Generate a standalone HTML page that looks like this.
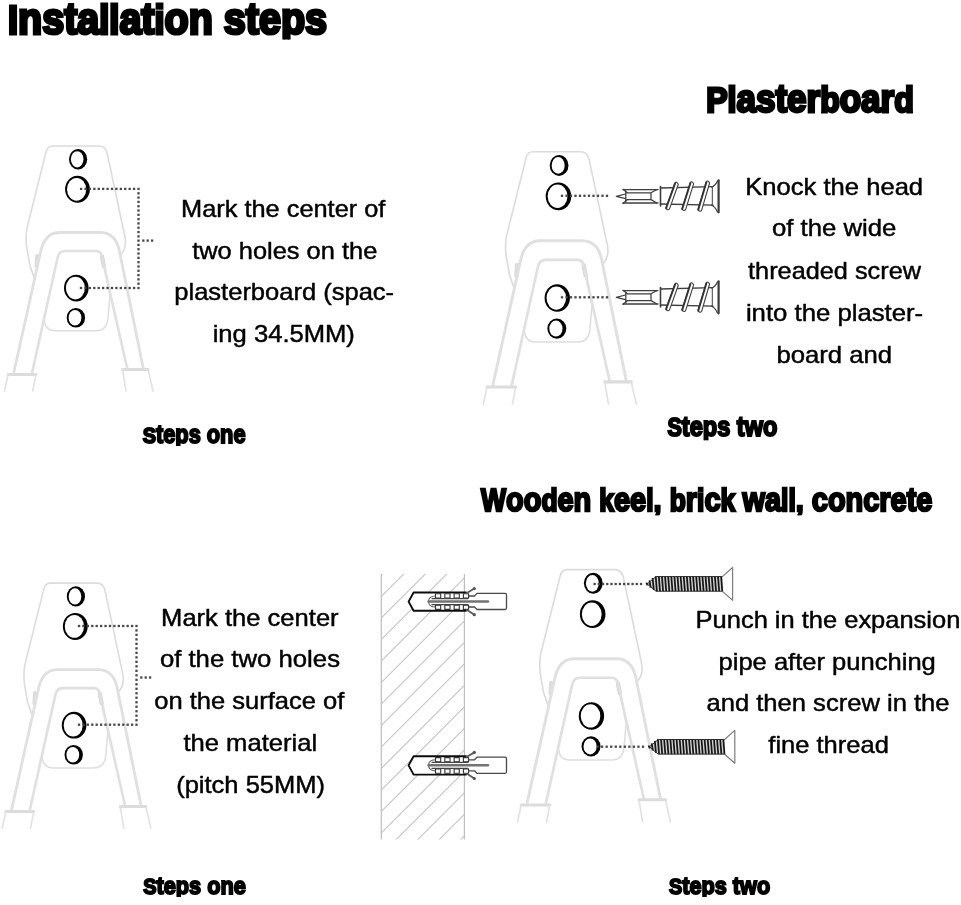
<!DOCTYPE html>
<html><head><meta charset="utf-8"><title>Installation steps</title>
<style>html,body{margin:0;padding:0;background:#fff}svg{display:block;will-change:transform}text{font-family:"Liberation Sans",sans-serif;fill:#000}</style></head>
<body>
<svg width="961" height="905" viewBox="0 0 961 905">
<rect width="961" height="905" fill="#fff"/>
<defs>
<g id="bk" fill="none" stroke-linecap="round" stroke-linejoin="round">
  <!-- upper plate -->
  <path d="M52.5 146 H99 Q105 146 107 152.5 L125 237 Q127 247 121.5 254" stroke="#dcdcdc" stroke-width="1.6"/>
  <path d="M52.5 146 Q47.5 146 46 152 L27 228 Q25 240 27.5 252 L30 266 L35 280" stroke="#dcdcdc" stroke-width="1.6"/>
  <!-- tabs -->
  <path d="M37.3 256 L36.6 266" stroke="#dcdcdc" stroke-width="4.2"/>
  <path d="M102 256.5 L103.8 266" stroke="#d6d6d6" stroke-width="4.2"/>
  <!-- lower plate -->
  <path d="M44 316 Q44 330.8 55 330.8 H96 Q107 330.8 108 318 L110 296 L104.5 264" stroke="#dedede" stroke-width="1.5"/>
  <!-- arch outer -->
  <path d="M13.9 372 L40.6 252 Q44.5 233 59 232.5 H101 Q115 233 119 249 L143.2 368" stroke="#e0e0e0" stroke-width="2.8"/>
  <!-- arch inner -->
  <path d="M31.8 374 L57.5 258 Q59 251 65 251 H96 Q101 251 102 257 L127.3 369" stroke="#e0e0e0" stroke-width="2.6"/>
  <!-- feet -->
  <path d="M8 374.5 H36" stroke="#dcdcdc" stroke-width="3"/>
  <path d="M8 375 L4.5 391 M35.8 375 L32.8 391" stroke="#e2e2e2" stroke-width="1.6"/>
  <path d="M122.3 369.5 H148.2" stroke="#dcdcdc" stroke-width="3"/>
  <path d="M122.5 370 L126 391 M148.2 370 L153 391" stroke="#e2e2e2" stroke-width="1.6"/>
</g>
<g id="holes"><ellipse cx="78.1" cy="159.3" rx="9.1" ry="10.2" fill="#000"/><ellipse cx="77.2" cy="159.3" rx="6.3" ry="8.1" fill="#fff"/><ellipse cx="77.5" cy="189.3" rx="12.4" ry="13.5" fill="#000"/><ellipse cx="76.6" cy="189.3" rx="9.6" ry="11.4" fill="#fff"/><ellipse cx="76.3" cy="288.1" rx="12.3" ry="13.4" fill="#000"/><ellipse cx="75.4" cy="288.1" rx="9.5" ry="11.3" fill="#fff"/><ellipse cx="75.9" cy="317.7" rx="9.2" ry="9.8" fill="#000"/><ellipse cx="75" cy="317.7" rx="6.4" ry="7.7" fill="#fff"/></g></defs>
<use href="#bk" transform="translate(78 159.3) scale(1) translate(-78 -159.3)"/>
<use href="#bk" transform="translate(559 165.4) scale(1.03) translate(-78 -159.3)"/>
<use href="#bk" transform="translate(75.8 596.4) scale(1) translate(-78 -159.3)"/>
<use href="#bk" transform="translate(593.2 583.3) scale(1.03) translate(-78 -159.3)"/>
<use href="#holes" transform="translate(78 159.3) scale(1) translate(-78 -159.3)"/>
<use href="#holes" transform="translate(559 165.4) scale(1.03) translate(-78 -159.3)"/>
<use href="#holes" transform="translate(75.8 596.4) scale(1) translate(-78 -159.3)"/>
<use href="#holes" transform="translate(593.2 583.3) scale(1.03) translate(-78 -159.3)"/>
<g fill="#484848"><rect x="79.95" y="187.75" width="2.3" height="2.3"/><rect x="84.37" y="187.75" width="2.3" height="2.3"/><rect x="88.78" y="187.75" width="2.3" height="2.3"/><rect x="93.2" y="187.75" width="2.3" height="2.3"/><rect x="97.61" y="187.75" width="2.3" height="2.3"/><rect x="102.03" y="187.75" width="2.3" height="2.3"/><rect x="106.44" y="187.75" width="2.3" height="2.3"/><rect x="110.86" y="187.75" width="2.3" height="2.3"/><rect x="115.27" y="187.75" width="2.3" height="2.3"/><rect x="119.69" y="187.75" width="2.3" height="2.3"/><rect x="124.1" y="187.75" width="2.3" height="2.3"/><rect x="128.52" y="187.75" width="2.3" height="2.3"/><rect x="132.93" y="187.75" width="2.3" height="2.3"/><rect x="137.35" y="187.75" width="2.3" height="2.3"/></g>
<g fill="#484848"><rect x="137.35" y="192.15" width="2.3" height="2.3"/><rect x="137.35" y="196.45" width="2.3" height="2.3"/><rect x="137.35" y="200.76" width="2.3" height="2.3"/><rect x="137.35" y="205.06" width="2.3" height="2.3"/><rect x="137.35" y="209.37" width="2.3" height="2.3"/><rect x="137.35" y="213.67" width="2.3" height="2.3"/><rect x="137.35" y="217.98" width="2.3" height="2.3"/><rect x="137.35" y="222.28" width="2.3" height="2.3"/><rect x="137.35" y="226.59" width="2.3" height="2.3"/><rect x="137.35" y="230.89" width="2.3" height="2.3"/><rect x="137.35" y="235.2" width="2.3" height="2.3"/><rect x="137.35" y="239.5" width="2.3" height="2.3"/><rect x="137.35" y="243.8" width="2.3" height="2.3"/><rect x="137.35" y="248.11" width="2.3" height="2.3"/><rect x="137.35" y="252.41" width="2.3" height="2.3"/><rect x="137.35" y="256.72" width="2.3" height="2.3"/><rect x="137.35" y="261.02" width="2.3" height="2.3"/><rect x="137.35" y="265.33" width="2.3" height="2.3"/><rect x="137.35" y="269.63" width="2.3" height="2.3"/><rect x="137.35" y="273.94" width="2.3" height="2.3"/><rect x="137.35" y="278.24" width="2.3" height="2.3"/><rect x="137.35" y="282.55" width="2.3" height="2.3"/><rect x="137.35" y="286.85" width="2.3" height="2.3"/></g>
<g fill="#484848"><rect x="79.85" y="286.85" width="2.3" height="2.3"/><rect x="84.27" y="286.85" width="2.3" height="2.3"/><rect x="88.7" y="286.85" width="2.3" height="2.3"/><rect x="93.12" y="286.85" width="2.3" height="2.3"/><rect x="97.55" y="286.85" width="2.3" height="2.3"/><rect x="101.97" y="286.85" width="2.3" height="2.3"/><rect x="106.4" y="286.85" width="2.3" height="2.3"/><rect x="110.82" y="286.85" width="2.3" height="2.3"/><rect x="115.25" y="286.85" width="2.3" height="2.3"/><rect x="119.67" y="286.85" width="2.3" height="2.3"/><rect x="124.1" y="286.85" width="2.3" height="2.3"/><rect x="128.52" y="286.85" width="2.3" height="2.3"/><rect x="132.95" y="286.85" width="2.3" height="2.3"/></g>
<g fill="#484848"><rect x="142.15" y="239.45" width="2.3" height="2.3"/><rect x="146.55" y="239.45" width="2.3" height="2.3"/><rect x="150.95" y="239.45" width="2.3" height="2.3"/></g>
<g fill="#484848"><rect x="77.85" y="624.85" width="2.3" height="2.3"/><rect x="82.27" y="624.85" width="2.3" height="2.3"/><rect x="86.7" y="624.85" width="2.3" height="2.3"/><rect x="91.12" y="624.85" width="2.3" height="2.3"/><rect x="95.54" y="624.85" width="2.3" height="2.3"/><rect x="99.97" y="624.85" width="2.3" height="2.3"/><rect x="104.39" y="624.85" width="2.3" height="2.3"/><rect x="108.81" y="624.85" width="2.3" height="2.3"/><rect x="113.23" y="624.85" width="2.3" height="2.3"/><rect x="117.66" y="624.85" width="2.3" height="2.3"/><rect x="122.08" y="624.85" width="2.3" height="2.3"/><rect x="126.5" y="624.85" width="2.3" height="2.3"/><rect x="130.93" y="624.85" width="2.3" height="2.3"/><rect x="135.35" y="624.85" width="2.3" height="2.3"/></g>
<g fill="#484848"><rect x="135.35" y="629.25" width="2.3" height="2.3"/><rect x="135.35" y="633.74" width="2.3" height="2.3"/><rect x="135.35" y="638.23" width="2.3" height="2.3"/><rect x="135.35" y="642.72" width="2.3" height="2.3"/><rect x="135.35" y="647.21" width="2.3" height="2.3"/><rect x="135.35" y="651.7" width="2.3" height="2.3"/><rect x="135.35" y="656.19" width="2.3" height="2.3"/><rect x="135.35" y="660.68" width="2.3" height="2.3"/><rect x="135.35" y="665.17" width="2.3" height="2.3"/><rect x="135.35" y="669.66" width="2.3" height="2.3"/><rect x="135.35" y="674.15" width="2.3" height="2.3"/><rect x="135.35" y="678.65" width="2.3" height="2.3"/><rect x="135.35" y="683.14" width="2.3" height="2.3"/><rect x="135.35" y="687.63" width="2.3" height="2.3"/><rect x="135.35" y="692.12" width="2.3" height="2.3"/><rect x="135.35" y="696.61" width="2.3" height="2.3"/><rect x="135.35" y="701.1" width="2.3" height="2.3"/><rect x="135.35" y="705.59" width="2.3" height="2.3"/><rect x="135.35" y="710.08" width="2.3" height="2.3"/><rect x="135.35" y="714.57" width="2.3" height="2.3"/><rect x="135.35" y="719.06" width="2.3" height="2.3"/><rect x="135.35" y="723.55" width="2.3" height="2.3"/></g>
<g fill="#484848"><rect x="77.85" y="723.55" width="2.3" height="2.3"/><rect x="82.27" y="723.55" width="2.3" height="2.3"/><rect x="86.7" y="723.55" width="2.3" height="2.3"/><rect x="91.12" y="723.55" width="2.3" height="2.3"/><rect x="95.55" y="723.55" width="2.3" height="2.3"/><rect x="99.97" y="723.55" width="2.3" height="2.3"/><rect x="104.4" y="723.55" width="2.3" height="2.3"/><rect x="108.82" y="723.55" width="2.3" height="2.3"/><rect x="113.25" y="723.55" width="2.3" height="2.3"/><rect x="117.67" y="723.55" width="2.3" height="2.3"/><rect x="122.1" y="723.55" width="2.3" height="2.3"/><rect x="126.52" y="723.55" width="2.3" height="2.3"/><rect x="130.95" y="723.55" width="2.3" height="2.3"/></g>
<g fill="#484848"><rect x="140.15" y="676.35" width="2.3" height="2.3"/><rect x="144.55" y="676.35" width="2.3" height="2.3"/><rect x="148.95" y="676.35" width="2.3" height="2.3"/></g>
<g fill="#484848"><rect x="560.85" y="194.65" width="2.3" height="2.3"/><rect x="565.35" y="194.65" width="2.3" height="2.3"/><rect x="569.85" y="194.65" width="2.3" height="2.3"/><rect x="574.35" y="194.65" width="2.3" height="2.3"/><rect x="578.85" y="194.65" width="2.3" height="2.3"/><rect x="583.35" y="194.65" width="2.3" height="2.3"/><rect x="587.85" y="194.65" width="2.3" height="2.3"/><rect x="592.35" y="194.65" width="2.3" height="2.3"/><rect x="596.85" y="194.65" width="2.3" height="2.3"/><rect x="601.35" y="194.65" width="2.3" height="2.3"/><rect x="605.85" y="194.65" width="2.3" height="2.3"/></g>
<g fill="#484848"><rect x="560.85" y="296.15" width="2.3" height="2.3"/><rect x="565.35" y="296.15" width="2.3" height="2.3"/><rect x="569.85" y="296.15" width="2.3" height="2.3"/><rect x="574.35" y="296.15" width="2.3" height="2.3"/><rect x="578.85" y="296.15" width="2.3" height="2.3"/><rect x="583.35" y="296.15" width="2.3" height="2.3"/><rect x="587.85" y="296.15" width="2.3" height="2.3"/><rect x="592.35" y="296.15" width="2.3" height="2.3"/><rect x="596.85" y="296.15" width="2.3" height="2.3"/><rect x="601.35" y="296.15" width="2.3" height="2.3"/><rect x="605.85" y="296.15" width="2.3" height="2.3"/></g>
<g fill="#484848"><rect x="593.45" y="582.85" width="2.3" height="2.3"/><rect x="597.67" y="582.85" width="2.3" height="2.3"/><rect x="601.89" y="582.85" width="2.3" height="2.3"/><rect x="606.1" y="582.85" width="2.3" height="2.3"/><rect x="610.32" y="582.85" width="2.3" height="2.3"/><rect x="614.54" y="582.85" width="2.3" height="2.3"/><rect x="618.76" y="582.85" width="2.3" height="2.3"/><rect x="622.98" y="582.85" width="2.3" height="2.3"/><rect x="627.2" y="582.85" width="2.3" height="2.3"/><rect x="631.41" y="582.85" width="2.3" height="2.3"/><rect x="635.63" y="582.85" width="2.3" height="2.3"/><rect x="639.85" y="582.85" width="2.3" height="2.3"/></g>
<g fill="#484848"><rect x="596.45" y="745.55" width="2.3" height="2.3"/><rect x="600.99" y="745.55" width="2.3" height="2.3"/><rect x="605.53" y="745.55" width="2.3" height="2.3"/><rect x="610.07" y="745.55" width="2.3" height="2.3"/><rect x="614.61" y="745.55" width="2.3" height="2.3"/><rect x="619.15" y="745.55" width="2.3" height="2.3"/><rect x="623.69" y="745.55" width="2.3" height="2.3"/><rect x="628.23" y="745.55" width="2.3" height="2.3"/><rect x="632.77" y="745.55" width="2.3" height="2.3"/><rect x="637.31" y="745.55" width="2.3" height="2.3"/><rect x="641.85" y="745.55" width="2.3" height="2.3"/></g>
<g transform="translate(0 0)" fill="none" stroke="#3e3e3e" stroke-width="1.25" stroke-linejoin="round" stroke-linecap="round"><path d="M616.3 196.3 L625.5 194 M616.3 196.3 L625.5 198.6 M623 189.3 L627 192.6 M623 203.3 L627 200"/><path d="M625.8 191 V201.6" /><path d="M623 189.6 H658 M623 203 H658" stroke-width="1.3"/><path d="M627 192.8 H651 L656.5 189.8 M627 199.6 H651 L656.5 202.8 M651 192.8 V199.6"/><path d="M660.5 186.5 V206" stroke-width="1.6"/><path d="M660.5 188 L713 186.6 M660.5 204 L713 205.2" stroke-width="1.3"/><path d="M665.9 207.9 L674.9 183.2 Q676.5 180.7 678.3 184.2 L669.5 208.9 Q667.7 211 665.9 207.9 Z" fill="#fff" stroke-width="1.1"/><path d="M666.1 208.2 L675.1 183.4" stroke-width="1.9" stroke="#333"/><path d="M682 208.7 L690.2 182.8 Q691.8 180.3 693.6 183.8 L685.6 209.7 Q683.8 211.8 682 208.7 Z" fill="#fff" stroke-width="1.1"/><path d="M682.2 209 L690.4 183" stroke-width="1.9" stroke="#333"/><path d="M698 209.4 L706.2 182 Q707.8 179.5 709.6 183 L701.6 210.4 Q699.8 212.5 698 209.4 Z" fill="#fff" stroke-width="1.1"/><path d="M698.2 209.7 L706.4 182.2" stroke-width="1.9" stroke="#333"/><path d="M711.5 187 Q715 186 717.5 181 M711.5 205 Q715 206.5 717.5 212"/><path d="M712.3 187.5 V205" stroke-width="1"/><path d="M718.6 180.3 V212.3" stroke-width="2.2" stroke="#3a3a3a"/></g>
<g transform="translate(0 101)" fill="none" stroke="#3e3e3e" stroke-width="1.25" stroke-linejoin="round" stroke-linecap="round"><path d="M616.3 196.3 L625.5 194 M616.3 196.3 L625.5 198.6 M623 189.3 L627 192.6 M623 203.3 L627 200"/><path d="M625.8 191 V201.6" /><path d="M623 189.6 H658 M623 203 H658" stroke-width="1.3"/><path d="M627 192.8 H651 L656.5 189.8 M627 199.6 H651 L656.5 202.8 M651 192.8 V199.6"/><path d="M660.5 186.5 V206" stroke-width="1.6"/><path d="M660.5 188 L713 186.6 M660.5 204 L713 205.2" stroke-width="1.3"/><path d="M665.9 207.9 L674.9 183.2 Q676.5 180.7 678.3 184.2 L669.5 208.9 Q667.7 211 665.9 207.9 Z" fill="#fff" stroke-width="1.1"/><path d="M666.1 208.2 L675.1 183.4" stroke-width="1.9" stroke="#333"/><path d="M682 208.7 L690.2 182.8 Q691.8 180.3 693.6 183.8 L685.6 209.7 Q683.8 211.8 682 208.7 Z" fill="#fff" stroke-width="1.1"/><path d="M682.2 209 L690.4 183" stroke-width="1.9" stroke="#333"/><path d="M698 209.4 L706.2 182 Q707.8 179.5 709.6 183 L701.6 210.4 Q699.8 212.5 698 209.4 Z" fill="#fff" stroke-width="1.1"/><path d="M698.2 209.7 L706.4 182.2" stroke-width="1.9" stroke="#333"/><path d="M711.5 187 Q715 186 717.5 181 M711.5 205 Q715 206.5 717.5 212"/><path d="M712.3 187.5 V205" stroke-width="1"/><path d="M718.6 180.3 V212.3" stroke-width="2.2" stroke="#3a3a3a"/></g>
<clipPath id="wc"><rect x="381.3" y="574" width="83.1" height="265.5"/></clipPath>
<g clip-path="url(#wc)" stroke="#c4c4c4" stroke-width="1.1"><path d="M379.3 577 L466.4 489.9"/><path d="M379.3 598.5 L466.4 511.4"/><path d="M379.3 620 L466.4 532.9"/><path d="M379.3 641.5 L466.4 554.4"/><path d="M379.3 663 L466.4 575.9"/><path d="M379.3 684.5 L466.4 597.4"/><path d="M379.3 706 L466.4 618.9"/><path d="M379.3 727.5 L466.4 640.4"/><path d="M379.3 749 L466.4 661.9"/><path d="M379.3 770.5 L466.4 683.4"/><path d="M379.3 792 L466.4 704.9"/><path d="M379.3 813.5 L466.4 726.4"/><path d="M379.3 835 L466.4 747.9"/><path d="M379.3 856.5 L466.4 769.4"/><path d="M379.3 878 L466.4 790.9"/><path d="M379.3 899.5 L466.4 812.4"/><path d="M379.3 921 L466.4 833.9"/></g>
<path d="M381.3 574 V839.5 M464.4 574 V839.5" stroke="#bdbdbd" stroke-width="1.2" fill="none"/>
<g transform="translate(0 0)" fill="none" stroke-linejoin="round" stroke-linecap="round"><path d="M408.6 601.6 L413.6 592.5 H468 V610.8 H413.6 Z" fill="#fff" stroke="none"/><path d="M466 596 H474.5 L477 593.4 H505 Q506.5 593.4 506.5 595 V608 Q506.5 609.5 505 609.5 H477 L474.5 607 H466" stroke="#484848" stroke-width="1.3" fill="#fff"/><path d="M466 592.5 H413.6 L408.6 601.6 L413.6 610.8 H466" stroke="#0c0c0c" stroke-width="1.9"/><path d="M436 596 Q428.5 596 428.5 601.5 Q428.5 607 436 607" stroke="#666" stroke-width="1.1"/><g fill="#fff" stroke="#333" stroke-width="1.1"><rect x="435.5" y="593.8" width="5.2" height="4.2"/><rect x="435.5" y="605.2" width="5.2" height="4.2"/><rect x="444.8" y="593.8" width="5.2" height="4.2"/><rect x="444.8" y="605.2" width="5.2" height="4.2"/><rect x="454.1" y="593.8" width="5.2" height="4.2"/><rect x="454.1" y="605.2" width="5.2" height="4.2"/><rect x="463.4" y="593.8" width="5.2" height="4.2"/><rect x="463.4" y="605.2" width="5.2" height="4.2"/></g><path d="M432 598.6 H468 M432 604.6 H468" stroke="#444" stroke-width="1.1"/><path d="M428.5 601.5 H488" stroke="#737373" stroke-width="2.4"/><path d="M466.4 593.2 L474 588.8 M467 609.9 L474 614.5" stroke="#5a5a5a" stroke-width="1.8"/><circle cx="474.3" cy="588.6" r="1.6" fill="#555"/><circle cx="474.3" cy="614.7" r="1.6" fill="#555"/></g>
<g transform="translate(0 163.8)" fill="none" stroke-linejoin="round" stroke-linecap="round"><path d="M408.6 601.6 L413.6 592.5 H468 V610.8 H413.6 Z" fill="#fff" stroke="none"/><path d="M466 596 H474.5 L477 593.4 H505 Q506.5 593.4 506.5 595 V608 Q506.5 609.5 505 609.5 H477 L474.5 607 H466" stroke="#484848" stroke-width="1.3" fill="#fff"/><path d="M466 592.5 H413.6 L408.6 601.6 L413.6 610.8 H466" stroke="#0c0c0c" stroke-width="1.9"/><path d="M436 596 Q428.5 596 428.5 601.5 Q428.5 607 436 607" stroke="#666" stroke-width="1.1"/><g fill="#fff" stroke="#333" stroke-width="1.1"><rect x="435.5" y="593.8" width="5.2" height="4.2"/><rect x="435.5" y="605.2" width="5.2" height="4.2"/><rect x="444.8" y="593.8" width="5.2" height="4.2"/><rect x="444.8" y="605.2" width="5.2" height="4.2"/><rect x="454.1" y="593.8" width="5.2" height="4.2"/><rect x="454.1" y="605.2" width="5.2" height="4.2"/><rect x="463.4" y="593.8" width="5.2" height="4.2"/><rect x="463.4" y="605.2" width="5.2" height="4.2"/></g><path d="M432 598.6 H468 M432 604.6 H468" stroke="#444" stroke-width="1.1"/><path d="M428.5 601.5 H488" stroke="#737373" stroke-width="2.4"/><path d="M466.4 593.2 L474 588.8 M467 609.9 L474 614.5" stroke="#5a5a5a" stroke-width="1.8"/><circle cx="474.3" cy="588.6" r="1.6" fill="#555"/><circle cx="474.3" cy="614.7" r="1.6" fill="#555"/></g>
<g transform="translate(0 0)" stroke-linejoin="round"><path d="M722.4 576.6 L732.6 567.5 V600.3 L722.4 591.4" fill="#fff" stroke="#7c7c7c" stroke-width="1.2"/><path d="M647.5 584 L655.5 577 H722.6 V590.8 H655.5 Z" fill="#d4d4d4"/><path d="M646.36 582.6 L647.56 585.4" stroke="#161616" stroke-width="1.75"/><path d="M649.47 580.4 L650.67 587.6" stroke="#161616" stroke-width="1.75"/><path d="M652.59 578 L653.79 590" stroke="#161616" stroke-width="1.75"/><path d="M655.7 576.3 L656.9 591.4" stroke="#161616" stroke-width="1.75"/><path d="M658.81 576.3 L660.01 591.4" stroke="#161616" stroke-width="1.75"/><path d="M661.93 576.3 L663.13 591.4" stroke="#161616" stroke-width="1.75"/><path d="M665.04 576.3 L666.24 591.4" stroke="#161616" stroke-width="1.75"/><path d="M668.16 576.3 L669.36 591.4" stroke="#161616" stroke-width="1.75"/><path d="M671.27 576.3 L672.47 591.4" stroke="#161616" stroke-width="1.75"/><path d="M674.39 576.3 L675.59 591.4" stroke="#161616" stroke-width="1.75"/><path d="M677.5 576.3 L678.7 591.4" stroke="#161616" stroke-width="1.75"/><path d="M680.61 576.3 L681.81 591.4" stroke="#161616" stroke-width="1.75"/><path d="M683.73 576.3 L684.93 591.4" stroke="#161616" stroke-width="1.75"/><path d="M686.84 576.3 L688.04 591.4" stroke="#161616" stroke-width="1.75"/><path d="M689.96 576.3 L691.16 591.4" stroke="#161616" stroke-width="1.75"/><path d="M693.07 576.3 L694.27 591.4" stroke="#161616" stroke-width="1.75"/><path d="M696.19 576.3 L697.39 591.4" stroke="#161616" stroke-width="1.75"/><path d="M699.3 576.3 L700.5 591.4" stroke="#161616" stroke-width="1.75"/><path d="M702.41 576.3 L703.61 591.4" stroke="#161616" stroke-width="1.75"/><path d="M705.53 576.3 L706.73 591.4" stroke="#161616" stroke-width="1.75"/><path d="M708.64 576.3 L709.84 591.4" stroke="#161616" stroke-width="1.75"/><path d="M711.76 576.3 L712.96 591.4" stroke="#161616" stroke-width="1.75"/><path d="M714.87 576.3 L716.07 591.4" stroke="#161616" stroke-width="1.75"/><path d="M717.99 576.3 L719.19 591.4" stroke="#161616" stroke-width="1.75"/><path d="M721.1 576.3 L722.3 591.4" stroke="#161616" stroke-width="1.75"/><path d="M722.4 576.6 H656 L647.2 584 L656 591.2 H722.4" stroke="#2a2a2a" stroke-width="1" fill="none"/></g>
<g transform="translate(2.2 162.9)" stroke-linejoin="round"><path d="M722.4 576.6 L732.6 567.5 V600.3 L722.4 591.4" fill="#fff" stroke="#7c7c7c" stroke-width="1.2"/><path d="M647.5 584 L655.5 577 H722.6 V590.8 H655.5 Z" fill="#d4d4d4"/><path d="M646.36 582.6 L647.56 585.4" stroke="#161616" stroke-width="1.75"/><path d="M649.47 580.4 L650.67 587.6" stroke="#161616" stroke-width="1.75"/><path d="M652.59 578 L653.79 590" stroke="#161616" stroke-width="1.75"/><path d="M655.7 576.3 L656.9 591.4" stroke="#161616" stroke-width="1.75"/><path d="M658.81 576.3 L660.01 591.4" stroke="#161616" stroke-width="1.75"/><path d="M661.93 576.3 L663.13 591.4" stroke="#161616" stroke-width="1.75"/><path d="M665.04 576.3 L666.24 591.4" stroke="#161616" stroke-width="1.75"/><path d="M668.16 576.3 L669.36 591.4" stroke="#161616" stroke-width="1.75"/><path d="M671.27 576.3 L672.47 591.4" stroke="#161616" stroke-width="1.75"/><path d="M674.39 576.3 L675.59 591.4" stroke="#161616" stroke-width="1.75"/><path d="M677.5 576.3 L678.7 591.4" stroke="#161616" stroke-width="1.75"/><path d="M680.61 576.3 L681.81 591.4" stroke="#161616" stroke-width="1.75"/><path d="M683.73 576.3 L684.93 591.4" stroke="#161616" stroke-width="1.75"/><path d="M686.84 576.3 L688.04 591.4" stroke="#161616" stroke-width="1.75"/><path d="M689.96 576.3 L691.16 591.4" stroke="#161616" stroke-width="1.75"/><path d="M693.07 576.3 L694.27 591.4" stroke="#161616" stroke-width="1.75"/><path d="M696.19 576.3 L697.39 591.4" stroke="#161616" stroke-width="1.75"/><path d="M699.3 576.3 L700.5 591.4" stroke="#161616" stroke-width="1.75"/><path d="M702.41 576.3 L703.61 591.4" stroke="#161616" stroke-width="1.75"/><path d="M705.53 576.3 L706.73 591.4" stroke="#161616" stroke-width="1.75"/><path d="M708.64 576.3 L709.84 591.4" stroke="#161616" stroke-width="1.75"/><path d="M711.76 576.3 L712.96 591.4" stroke="#161616" stroke-width="1.75"/><path d="M714.87 576.3 L716.07 591.4" stroke="#161616" stroke-width="1.75"/><path d="M717.99 576.3 L719.19 591.4" stroke="#161616" stroke-width="1.75"/><path d="M721.1 576.3 L722.3 591.4" stroke="#161616" stroke-width="1.75"/><path d="M722.4 576.6 H656 L647.2 584 L656 591.2 H722.4" stroke="#2a2a2a" stroke-width="1" fill="none"/></g>
<text x="181.1" y="216.7" font-size="24" font-weight="normal" textLength="204.3" lengthAdjust="spacingAndGlyphs" stroke="#000" stroke-width="0.45" stroke-linejoin="round">Mark the center of</text>
<text x="192.2" y="258.6" font-size="24" font-weight="normal" textLength="185.1" lengthAdjust="spacingAndGlyphs" stroke="#000" stroke-width="0.45" stroke-linejoin="round">two holes on the</text>
<text x="174.3" y="300.4" font-size="24" font-weight="normal" textLength="219.8" lengthAdjust="spacingAndGlyphs" stroke="#000" stroke-width="0.45" stroke-linejoin="round">plasterboard (spac-</text>
<text x="212.7" y="342.3" font-size="24" font-weight="normal" textLength="142.2" lengthAdjust="spacingAndGlyphs" stroke="#000" stroke-width="0.45" stroke-linejoin="round">ing 34.5MM)</text>
<text x="745.3" y="194.6" font-size="24" font-weight="normal" textLength="177.8" lengthAdjust="spacingAndGlyphs" stroke="#000" stroke-width="0.45" stroke-linejoin="round">Knock the head</text>
<text x="771.9" y="236.4" font-size="24" font-weight="normal" textLength="124.5" lengthAdjust="spacingAndGlyphs" stroke="#000" stroke-width="0.45" stroke-linejoin="round">of the wide</text>
<text x="748.1" y="278.6" font-size="24" font-weight="normal" textLength="172.9" lengthAdjust="spacingAndGlyphs" stroke="#000" stroke-width="0.45" stroke-linejoin="round">threaded screw</text>
<text x="745.9" y="320.9" font-size="24" font-weight="normal" textLength="177.3" lengthAdjust="spacingAndGlyphs" stroke="#000" stroke-width="0.45" stroke-linejoin="round">into the plaster-</text>
<text x="776.4" y="362.7" font-size="24" font-weight="normal" textLength="115.7" lengthAdjust="spacingAndGlyphs" stroke="#000" stroke-width="0.45" stroke-linejoin="round">board and</text>
<text x="161.1" y="625.7" font-size="24" font-weight="normal" textLength="177.5" lengthAdjust="spacingAndGlyphs" stroke="#000" stroke-width="0.45" stroke-linejoin="round">Mark the center</text>
<text x="159.9" y="667.4" font-size="24" font-weight="normal" textLength="180.1" lengthAdjust="spacingAndGlyphs" stroke="#000" stroke-width="0.45" stroke-linejoin="round">of the two holes</text>
<text x="154.2" y="709.4" font-size="24" font-weight="normal" textLength="190.1" lengthAdjust="spacingAndGlyphs" stroke="#000" stroke-width="0.45" stroke-linejoin="round">on the surface of</text>
<text x="183.4" y="751.1" font-size="24" font-weight="normal" textLength="133.8" lengthAdjust="spacingAndGlyphs" stroke="#000" stroke-width="0.45" stroke-linejoin="round">the material</text>
<text x="176.2" y="792.8" font-size="24" font-weight="normal" textLength="148.8" lengthAdjust="spacingAndGlyphs" stroke="#000" stroke-width="0.45" stroke-linejoin="round">(pitch 55MM)</text>
<text x="695.6" y="628" font-size="24" font-weight="normal" textLength="264.7" lengthAdjust="spacingAndGlyphs" stroke="#000" stroke-width="0.45" stroke-linejoin="round">Punch in the expansion</text>
<text x="718.5" y="669.8" font-size="24" font-weight="normal" textLength="217.3" lengthAdjust="spacingAndGlyphs" stroke="#000" stroke-width="0.45" stroke-linejoin="round">pipe after punching</text>
<text x="706.5" y="711.3" font-size="24" font-weight="normal" textLength="243" lengthAdjust="spacingAndGlyphs" stroke="#000" stroke-width="0.45" stroke-linejoin="round">and then screw in the</text>
<text x="768.3" y="752.9" font-size="24" font-weight="normal" textLength="120.6" lengthAdjust="spacingAndGlyphs" stroke="#000" stroke-width="0.45" stroke-linejoin="round">fine thread</text>
<clipPath id="hc1"><rect x="3" y="-1" width="329" height="40.61"/></clipPath>
<text x="8" y="33.8" font-weight="bold" textLength="319" lengthAdjust="spacingAndGlyphs" stroke="#000" stroke-width="3.2" stroke-linejoin="miter" stroke-miterlimit="2.5" xml:space="preserve" clip-path="url(#hc1)"><tspan font-size="40.05">I</tspan><tspan font-size="43.78">nsta</tspan><tspan font-size="40.05">ll</tspan><tspan font-size="43.78">at</tspan><tspan font-size="40.05">i</tspan><tspan font-size="43.78">on steps</tspan></text>
<clipPath id="hc2"><rect x="701.4" y="81.5" width="217.2" height="35.87"/></clipPath>
<text x="706.2" y="112.3" font-weight="bold" textLength="207.6" lengthAdjust="spacingAndGlyphs" stroke="#000" stroke-width="2.8" stroke-linejoin="miter" stroke-miterlimit="2.5" xml:space="preserve" clip-path="url(#hc2)"><tspan font-size="34.84">Pl</tspan><tspan font-size="38.08">aster</tspan><tspan font-size="34.84">b</tspan><tspan font-size="38.08">oar</tspan><tspan font-size="34.84">d</tspan></text>
<clipPath id="hc3"><rect x="476.5" y="483" width="460.5" height="32.25"/></clipPath>
<text x="481.1" y="510.8" font-weight="bold" textLength="451.3" lengthAdjust="spacingAndGlyphs" stroke="#000" stroke-width="2.4" stroke-linejoin="miter" stroke-miterlimit="2.5" xml:space="preserve" clip-path="url(#hc3)"><tspan font-size="31">W</tspan><tspan font-size="33.92">oo</tspan><tspan font-size="31">d</tspan><tspan font-size="33.92">en </tspan><tspan font-size="31">k</tspan><tspan font-size="33.92">ee</tspan><tspan font-size="31">l</tspan><tspan font-size="33.92">, </tspan><tspan font-size="31">b</tspan><tspan font-size="33.92">r</tspan><tspan font-size="31">i</tspan><tspan font-size="33.92">c</tspan><tspan font-size="31">k </tspan><tspan font-size="33.92">wa</tspan><tspan font-size="31">ll</tspan><tspan font-size="33.92">, concrete</tspan></text>
<clipPath id="hc4"><rect x="138.3" y="421" width="111.6" height="25.02"/></clipPath>
<text x="142.65" y="442.65" font-weight="bold" textLength="102.9" lengthAdjust="spacingAndGlyphs" stroke="#000" stroke-width="1.9" stroke-linejoin="miter" stroke-miterlimit="2.5" xml:space="preserve" clip-path="url(#hc4)"><tspan font-size="22.91">S</tspan><tspan font-size="25.02">teps one</tspan></text>
<clipPath id="hc5"><rect x="663" y="412.7" width="118.9" height="27.5"/></clipPath>
<text x="667.45" y="436.45" font-weight="bold" textLength="110" lengthAdjust="spacingAndGlyphs" stroke="#000" stroke-width="2.1" stroke-linejoin="miter" stroke-miterlimit="2.5" xml:space="preserve" clip-path="url(#hc5)"><tspan font-size="25.65">S</tspan><tspan font-size="28.02">teps two</tspan></text>
<clipPath id="hc6"><rect x="138.8" y="872.2" width="111.4" height="24.79"/></clipPath>
<text x="143.15" y="893.65" font-weight="bold" textLength="102.7" lengthAdjust="spacingAndGlyphs" stroke="#000" stroke-width="1.9" stroke-linejoin="miter" stroke-miterlimit="2.5" xml:space="preserve" clip-path="url(#hc6)"><tspan font-size="22.63">S</tspan><tspan font-size="24.71">teps one</tspan></text>
<clipPath id="hc7"><rect x="664.6" y="872.2" width="109.9" height="24.79"/></clipPath>
<text x="668.95" y="893.65" font-weight="bold" textLength="101.2" lengthAdjust="spacingAndGlyphs" stroke="#000" stroke-width="1.9" stroke-linejoin="miter" stroke-miterlimit="2.5" xml:space="preserve" clip-path="url(#hc7)"><tspan font-size="22.63">S</tspan><tspan font-size="24.71">teps two</tspan></text>
</svg>
</body></html>
